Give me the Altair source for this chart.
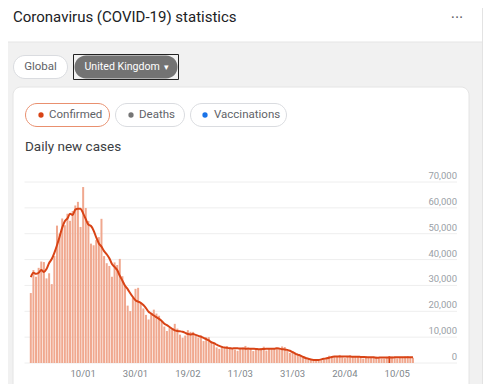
import altair as alt
import pandas as pd

# ---------------- data ----------------
start_date = "2020-12-21"
cases = [
    27052, 35928, 33364, 36804, 39237, 39036, 32725, 34693, 30501, 41385,
    53135, 50023, 55892, 53285, 57725, 54990, 58784, 60916, 62322, 52618,
    68053, 59937, 54940, 46169, 45533, 47525, 48682, 55761, 41346, 38598,
    37535, 33355, 38905, 37892, 40261, 33552, 30004, 22195, 20089, 25308,
    28680, 29079, 23275, 21088, 18607, 16840, 19202, 20634, 19114, 18262,
    15845, 14104, 12364, 13494, 13308, 15144, 13308, 10972, 9765, 10625,
    12718, 12057, 12027, 10406, 9834, 10641, 8489, 9938, 9985, 8523,
    7434, 6035, 5455, 6391, 5766, 6573, 6040, 5534, 5177, 4712,
    5766, 5926, 6609, 5534, 5534, 4618, 5089, 5294, 5758, 6303,
    4802, 5587, 5312, 5342, 5379, 5605, 6397, 6187, 4715, 3862,
    4654, 4052, 3200, 2800, 2300, 1800, 1300, 1100, 1000, 1200,
    900, 1100, 1300, 1500, 2800, 2472, 2491, 2672, 3124, 2206,
    1882, 2524, 2963, 2396, 2729, 2678, 2061, 1712, 2685, 2064,
    2166, 2381, 2445, 1907, 1671, 1649, 2357, 2613, 2490, 2047,
    1770, 1946, 2284, 2474, 2657, 2193, 2027,
]
avg7 = [
    33200, 34900, 34500, 34900, 35950, 35200, 36340, 38670, 40210, 42620,
    45560, 48850, 52350, 54830, 55950, 57700, 57230, 59340, 59660, 59650,
    57850, 55650, 53540, 52980, 51220, 48570, 46230, 45000, 43260, 42030,
    40490, 38270, 37160, 35930, 33740, 31840, 29900, 28580, 26990, 25520,
    24250, 23730, 23270, 22400, 21250, 19820, 19110, 18360, 17710, 17080,
    16260, 15210, 14650, 13940, 13240, 12620, 12370, 12260, 12080, 11640,
    11220, 11060, 11190, 10880, 10490, 10190, 9690, 9260, 8720, 7980,
    7680, 7080, 6600, 6240, 5970, 5850, 5740, 5650, 5680, 5680,
    5610, 5610, 5530, 5580, 5520, 5490, 5450, 5340, 5350, 5450,
    5490, 5500, 5480, 5490, 5690, 5560, 5360, 5260, 5070, 4720,
    4210, 3660, 3240, 2870, 2370, 1930, 1640, 1370, 1200, 1130,
    1160, 1400, 1610, 1800, 2050, 2340, 2470, 2520, 2480, 2550,
    2540, 2550, 2480, 2460, 2440, 2460, 2330, 2300, 2250, 2220,
    2190, 2190, 2040, 2080, 2150, 2160, 2110, 2090, 2130, 2220,
    2230, 2240, 2200, 2190, 2200, 2220, 2220,
]
highlight_date = "2021-05-07"
y_ticks = [0, 10000, 20000, 30000, 40000, 50000, 60000, 70000]
x_tick_dates = ["2021-01-10", "2021-01-30", "2021-02-19", "2021-03-11",
                "2021-03-31", "2021-04-20", "2021-05-10"]
x_tick_labels = ["10/01", "30/01", "19/02", "11/03", "31/03", "20/04", "10/05"]

# ---------------- tables ----------------
t0 = pd.Timestamp(start_date)
dates = pd.date_range(start_date, periods=len(cases))
df = pd.DataFrame({"date": dates, "cases": cases, "avg": avg7})
df["day"] = (df["date"] - t0).dt.days
df["hl"] = (df["date"] == pd.Timestamp(highlight_date)).map({True: "h", False: "n"})
df = df.drop(columns=["date"])

ticks_y = pd.DataFrame({"v": y_ticks})
ticks_x = pd.DataFrame({"day": (pd.to_datetime(x_tick_dates) - t0).days, "label": x_tick_labels})
one = pd.DataFrame({"a": [0]})

W, H = 484, 376
FONT = "Roboto"
xs = alt.Scale(domain=[0, 160], range=[17.8, 446.6], nice=False, zero=False)
ys = alt.Scale(domain=[0, 70000], range=[355, 174], nice=False)


def box(x, x2, y, y2, fill, stroke=None, r=0, sw=1):
    kw = dict(fill=fill, cornerRadius=r)
    if stroke:
        kw.update(stroke=stroke, strokeWidth=sw)
    else:
        kw.update(strokeWidth=0)
    return alt.Chart(one).mark_rect(**kw).encode(
        x=alt.value(x), x2=alt.value(x2), y=alt.value(y), y2=alt.value(y2))


def txt(s, x, y, size=12, color="#5f6368", align="left", baseline="middle"):
    return alt.Chart(one).mark_text(
        text=s, align=align, baseline=baseline, fontSize=size, color=color, font=FONT
    ).encode(x=alt.value(x), y=alt.value(y))


def dot(x, y, color):
    return alt.Chart(one).mark_circle(size=28, color=color, opacity=1).encode(
        x=alt.value(x), y=alt.value(y))


layers = [
    # page background
    box(0, 474, 34, 400, "#f1f1f1"),
    box(0, 474, 33.5, 34.5, "#e6e6e6"),
    box(474, 475, 0, 400, "#e3e3e3"),
    # header
    txt("Coronavirus (COVID-19) statistics", 5, 14, size=15, color="#202124", baseline="alphabetic"),
    txt("···", 449, 10, size=16, color="#5f6368", align="center"),
    # region buttons
    box(5.5, 59.5, 47.5, 70.5, "white", "#dadce0", r=11.5),
    txt("Global", 32.5, 59, size=11.5, color="#5f6368", align="center"),
    box(66.5, 169.5, 47.5, 70.5, "#737373", r=11.5),
    box(65.5, 170.5, 46.5, 71.5, "transparent", "#222222"),
    txt("United Kingdom", 76.5, 59, size=10.6, color="white"),
    txt("▾", 158, 58.5, size=9, color="white", align="center"),
    # card
    box(5, 461, 79, 420, "white", "#e4e4e4", r=8),
    # chips
    box(17.5, 101.5, 95.5, 118.5, "white", "#e9906f", r=11.5),
    dot(33, 107, "#d84315"),
    txt("Confirmed", 41, 107, size=11.5, color="#5f6368"),
    box(107.5, 176.5, 95.5, 118.5, "white", "#dadce0", r=11.5),
    dot(123, 107, "#757575"),
    txt("Deaths", 131, 107, size=11.5, color="#5f6368"),
    box(182.5, 278.5, 95.5, 118.5, "white", "#dadce0", r=11.5),
    dot(197, 107, "#1a73e8"),
    txt("Vaccinations", 206, 107, size=11.5, color="#5f6368"),
    txt("Daily new cases", 17, 143, size=13.5, color="#3c4043", baseline="alphabetic"),
]

grid = alt.Chart(ticks_y).mark_rule(color="#eeeeee", strokeWidth=1).encode(
    y=alt.Y("v:Q", scale=ys, axis=None), x=alt.value(16.5), x2=alt.value(449))

ylab = alt.Chart(ticks_y).mark_text(
    align="right", baseline="alphabetic", dy=-3, fontSize=9.5, color="#9aa0a6", font=FONT
).encode(y=alt.Y("v:Q", scale=ys, axis=None), x=alt.value(449),
         text=alt.Text("v:Q", format=","))

bars = alt.Chart(df).mark_bar(size=2).encode(
    x=alt.X("day:Q", scale=xs, axis=None),
    y=alt.Y("cases:Q", scale=ys, axis=None),
    color=alt.Color("hl:N", scale=alt.Scale(domain=["n", "h"], range=["#f0a88f", "#d84315"]),
                    legend=None),
)

line = alt.Chart(df).mark_line(color="#d84315", strokeWidth=2, interpolate="monotone").encode(
    x=alt.X("day:Q", scale=xs, axis=None),
    y=alt.Y("avg:Q", scale=ys, axis=None),
)

xlab = alt.Chart(ticks_x).mark_text(
    align="center", baseline="alphabetic", fontSize=9.5, color="#80868b", font=FONT
).encode(x=alt.X("day:Q", scale=xs, axis=None), y=alt.value(369), text="label:N")

chart = alt.layer(*layers, grid, ylab, bars, line, xlab).properties(
    width=W, height=H, autosize=alt.AutoSizeParams(type="none"), padding=0,
    background="white",
).configure_view(stroke=None)

chart.save("out.html", embed_options={"renderer": "svg", "actions": False})
